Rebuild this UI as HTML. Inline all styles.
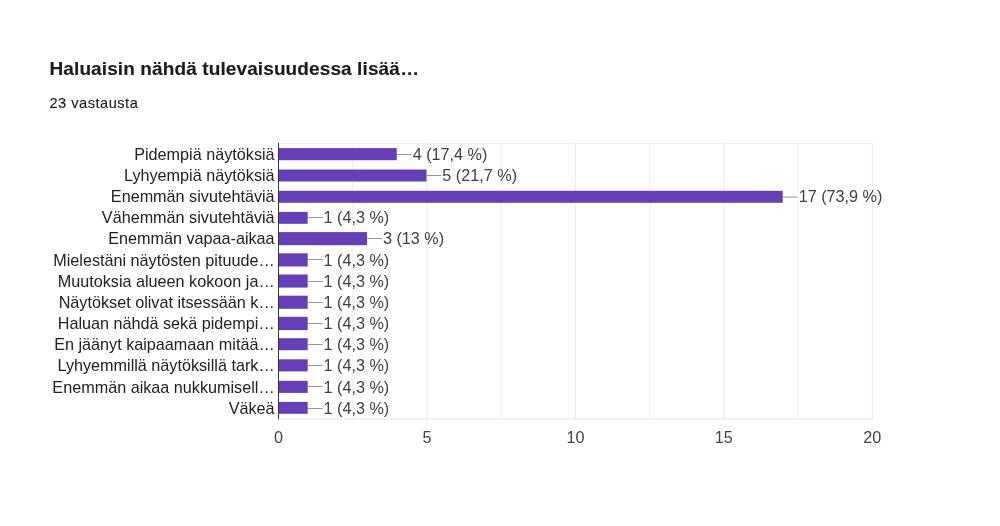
<!DOCTYPE html>
<html lang="fi">
<head>
<meta charset="utf-8">
<title>Haluaisin nähdä tulevaisuudessa lisää...</title>
<style>
html,body{margin:0;padding:0;background:#fff;}
body{width:1000px;height:526px;overflow:hidden;position:relative;font-family:"Liberation Sans",Arial,sans-serif;}
.title{position:absolute;left:49.5px;top:55.8px;font-size:19px;line-height:26px;font-weight:bold;color:#1c1c20;letter-spacing:0.11px;-webkit-text-stroke:0.15px #1c1c20;white-space:nowrap;}
.sub{position:absolute;left:49.5px;top:92.6px;font-size:14.6px;line-height:20px;color:#1c1c20;-webkit-text-stroke:0.15px #1c1c20;letter-spacing:0.5px;white-space:nowrap;}
.dots{margin-left:1.0px;letter-spacing:0.8px;}
svg{position:absolute;left:0;top:0;}
svg text{font-family:"Liberation Sans",Arial,sans-serif;font-size:16.2px;}
.cat{fill:#222;text-anchor:end;}
.val{fill:#404040;text-anchor:start;}
.tick{fill:#444;text-anchor:middle;}
</style>
</head>
<body>
<div class="title">Haluaisin nähdä tulevaisuudessa lisää<span class="dots">...</span></div>
<div class="sub">23 vastausta</div>
<svg width="1000" height="526" viewBox="0 0 1000 526">

<g>
<rect x="278" y="143" width="595" height="1" fill="#f0f0f0"/>
<rect x="278" y="418.5" width="595" height="1" fill="#e6e6e6"/>
<rect x="352.05" y="143" width="1.2" height="276.5" fill="#f2f2f2"/>
<rect x="500.55" y="143" width="1.2" height="276.5" fill="#f2f2f2"/>
<rect x="649.05" y="143" width="1.2" height="276.5" fill="#f2f2f2"/>
<rect x="797.55" y="143" width="1.2" height="276.5" fill="#f2f2f2"/>
<rect x="426.30" y="143" width="1.2" height="276.5" fill="#ededed"/>
<rect x="574.80" y="143" width="1.2" height="276.5" fill="#ededed"/>
<rect x="723.30" y="143" width="1.2" height="276.5" fill="#ededed"/>
<rect x="871.80" y="143" width="1.2" height="276.5" fill="#ededed"/>
</g>
<rect x="279" y="148.10" width="117.76" height="12.10" fill="#643fb6"/>
<rect x="396.76" y="154" width="15" height="1" fill="#959595"/>
<text class="cat" x="274.6" y="159.83">Pidempiä näytöksiä</text>
<text class="val" x="412.66" y="159.83">4 (17,4 %)</text>
<rect x="279" y="169.50" width="147.45" height="12.00" fill="#643fb6"/>
<rect x="426.45" y="175" width="15" height="1" fill="#959595"/>
<text class="cat" x="274.6" y="180.98">Lyhyempiä näytöksiä</text>
<text class="val" x="442.35" y="180.98">5 (21,7 %)</text>
<rect x="279" y="190.80" width="503.73" height="12.00" fill="#643fb6"/>
<rect x="782.73" y="196.6" width="15" height="1" fill="#959595"/>
<text class="cat" x="274.6" y="202.14">Enemmän sivutehtäviä</text>
<text class="val" x="798.63" y="202.14">17 (73,9 %)</text>
<rect x="279" y="211.90" width="28.69" height="11.90" fill="#643fb6"/>
<rect x="307.69" y="217" width="15" height="1" fill="#959595"/>
<text class="cat" x="274.6" y="223.29">Vähemmän sivutehtäviä</text>
<text class="val" x="323.59" y="223.29">1 (4,3 %)</text>
<rect x="279" y="232.10" width="88.07" height="13.10" fill="#643fb6"/>
<rect x="367.07" y="238" width="15" height="1" fill="#959595"/>
<text class="cat" x="274.6" y="244.45">Enemmän vapaa-aikaa</text>
<text class="val" x="382.97" y="244.45">3 (13 %)</text>
<rect x="279" y="253.30" width="28.69" height="13.20" fill="#643fb6"/>
<rect x="307.69" y="259" width="15" height="1" fill="#959595"/>
<text class="cat" x="274.6" y="265.60">Mielestäni näytösten pituude…</text>
<text class="val" x="323.59" y="265.60">1 (4,3 %)</text>
<rect x="279" y="274.50" width="28.69" height="13.10" fill="#643fb6"/>
<rect x="307.69" y="281" width="15" height="1" fill="#959595"/>
<text class="cat" x="274.6" y="286.75">Muutoksia alueen kokoon ja…</text>
<text class="val" x="323.59" y="286.75">1 (4,3 %)</text>
<rect x="279" y="295.70" width="28.69" height="13.10" fill="#643fb6"/>
<rect x="307.69" y="302" width="15" height="1" fill="#959595"/>
<text class="cat" x="274.6" y="307.91">Näytökset olivat itsessään k…</text>
<text class="val" x="323.59" y="307.91">1 (4,3 %)</text>
<rect x="279" y="316.80" width="28.69" height="13.30" fill="#643fb6"/>
<rect x="307.69" y="323" width="15" height="1" fill="#959595"/>
<text class="cat" x="274.6" y="329.06">Haluan nähdä sekä pidempi…</text>
<text class="val" x="323.59" y="329.06">1 (4,3 %)</text>
<rect x="279" y="338.20" width="28.69" height="12.00" fill="#643fb6"/>
<rect x="307.69" y="344" width="15" height="1" fill="#959595"/>
<text class="cat" x="274.6" y="350.22">En jäänyt kaipaamaan mitää…</text>
<text class="val" x="323.59" y="350.22">1 (4,3 %)</text>
<rect x="279" y="359.30" width="28.69" height="12.10" fill="#643fb6"/>
<rect x="307.69" y="365" width="15" height="1" fill="#959595"/>
<text class="cat" x="274.6" y="371.37">Lyhyemmillä näytöksillä tark…</text>
<text class="val" x="323.59" y="371.37">1 (4,3 %)</text>
<rect x="279" y="380.80" width="28.69" height="12.10" fill="#643fb6"/>
<rect x="307.69" y="386" width="15" height="1" fill="#959595"/>
<text class="cat" x="274.6" y="392.52">Enemmän aikaa nukkumisell…</text>
<text class="val" x="323.59" y="392.52">1 (4,3 %)</text>
<rect x="279" y="401.90" width="28.69" height="11.90" fill="#643fb6"/>
<rect x="307.69" y="408" width="15" height="1" fill="#959595"/>
<text class="cat" x="274.6" y="413.68">Väkeä</text>
<text class="val" x="323.59" y="413.68">1 (4,3 %)</text>
<rect x="278" y="143" width="1" height="276.4" fill="#333"/>
<text class="tick" x="278.50" y="443.2">0</text>
<text class="tick" x="426.95" y="443.2">5</text>
<text class="tick" x="575.40" y="443.2">10</text>
<text class="tick" x="723.85" y="443.2">15</text>
<text class="tick" x="872.30" y="443.2">20</text>
</svg>
</body>
</html>
